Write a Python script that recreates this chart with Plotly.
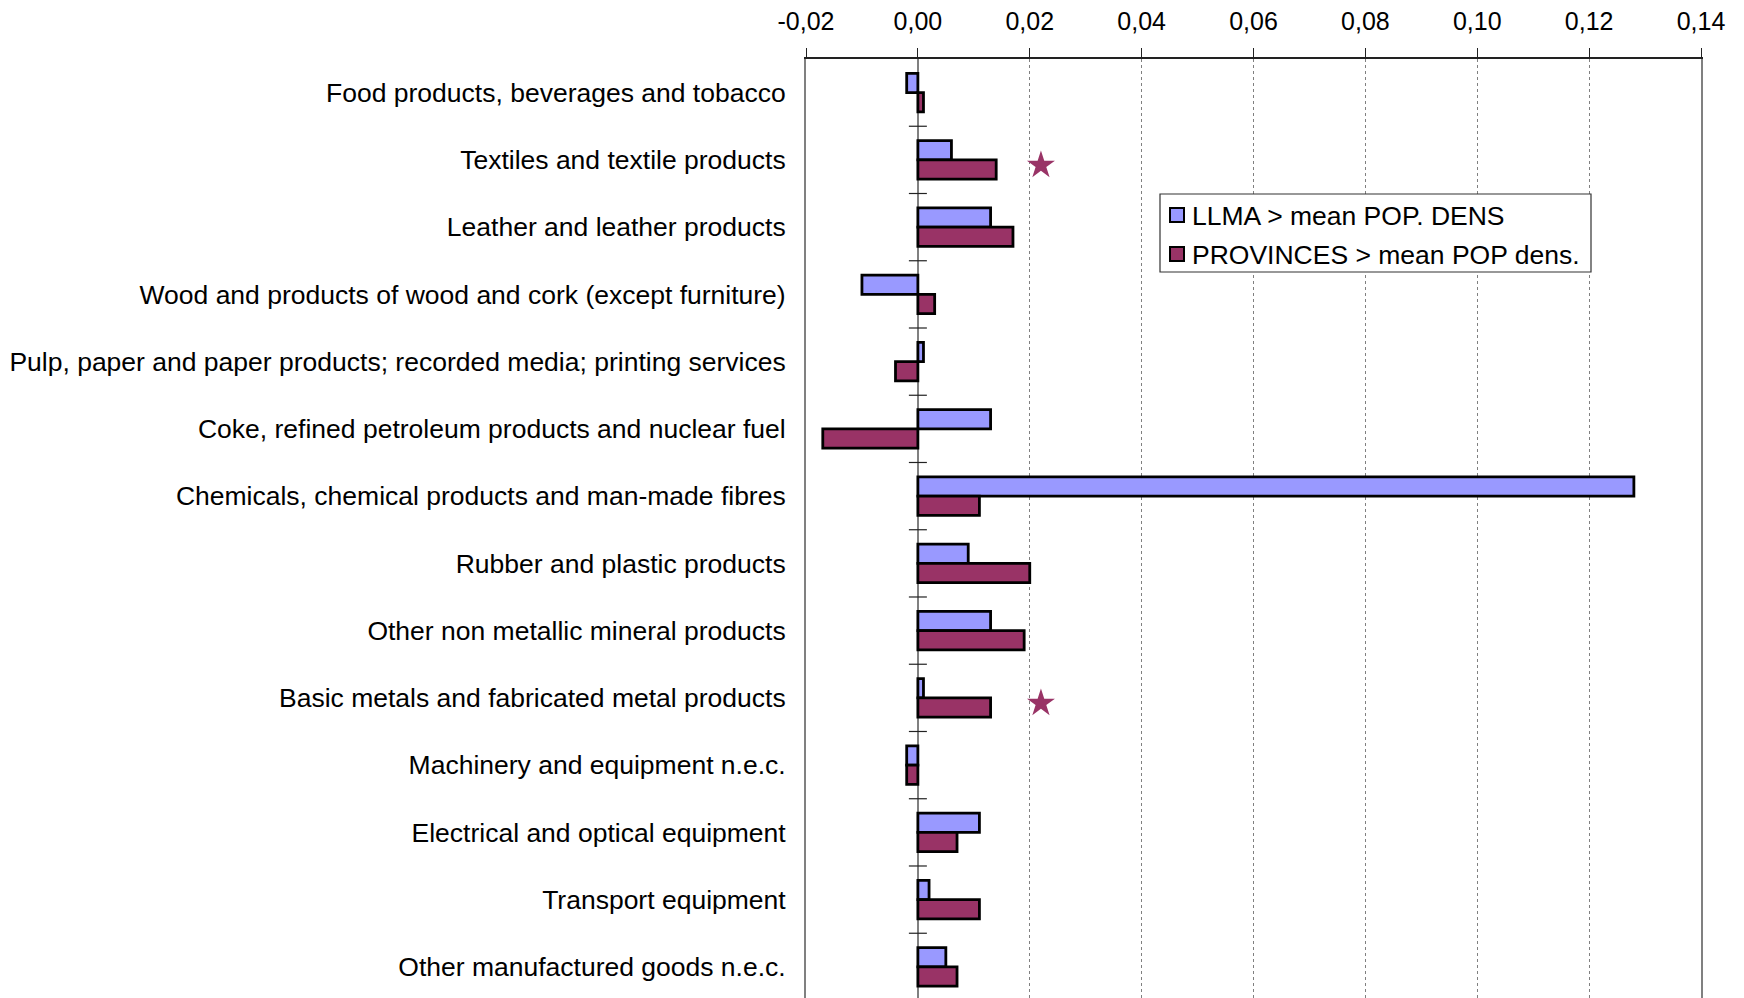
import plotly.graph_objects as go

# Manufacturing sectors (top to bottom)
categories = [
    "Food products, beverages and tobacco",
    "Textiles and textile products",
    "Leather and leather products",
    "Wood and products of wood and cork (except furniture)",
    "Pulp, paper and paper products; recorded media; printing services",
    "Coke, refined petroleum products and nuclear fuel",
    "Chemicals, chemical products and man-made fibres",
    "Rubber and plastic products",
    "Other non metallic mineral products",
    "Basic metals and fabricated metal products",
    "Machinery and equipment n.e.c.",
    "Electrical and optical equipment",
    "Transport equipment",
    "Other manufactured goods n.e.c.",
]

llma_values = [-0.002, 0.006, 0.013, -0.010, 0.001, 0.013, 0.128,
               0.009, 0.013, 0.001, -0.002, 0.011, 0.002, 0.005]
prov_values = [0.001, 0.014, 0.017, 0.003, -0.004, -0.017, 0.011,
               0.020, 0.019, 0.013, -0.002, 0.007, 0.011, 0.007]

# Significance markers
star_categories = ["Textiles and textile products",
                   "Basic metals and fabricated metal products"]
star_value = 0.022

x_tick_values = [-0.02, 0.00, 0.02, 0.04, 0.06, 0.08, 0.10, 0.12, 0.14]
x_tick_labels = ["-0,02", "0,00", "0,02", "0,04", "0,06", "0,08", "0,10", "0,12", "0,14"]

series_names = ["LLMA > mean POP. DENS", "PROVINCES > mean POP dens."]
series_colors = ["#9999FF", "#993366"]

FONT = "Arial, Liberation Sans, sans-serif"
W, H = 1744, 998
ML, MR, MT, MB = 806, 43, 59, 0
rows = list(range(len(categories)))


def px_x(px):
    return (px - ML) / (W - ML - MR)


def px_y(py):
    return 1 - (py - MT) / (H - MT - MB)


fig = go.Figure()
for name, vals, col in zip(series_names, [llma_values, prov_values], series_colors):
    fig.add_trace(go.Bar(
        x=vals, y=rows, orientation="h", name=name,
        marker=dict(color=col, line=dict(color="black", width=2.8)),
        showlegend=False,
    ))

star_rows = [categories.index(c) + 0.08 for c in star_categories]
fig.add_trace(go.Scatter(
    x=[star_value] * len(star_rows), y=star_rows, mode="markers",
    marker=dict(symbol="star", size=21, color="#993366"),
    showlegend=False, hoverinfo="skip",
))

# Category tick marks crossing the zero line
for k in range(len(categories)):
    fig.add_shape(type="line", xref="x", yref="y", xsizemode="pixel", xanchor=0,
                  x0=-9, x1=9, y0=k + 0.5, y1=k + 0.5,
                  line=dict(color="#222222", width=1.2), layer="above")

# Legend box
box_left, box_top, box_right, box_bottom = 1160, 194, 1591, 272
fig.add_shape(type="rect", xref="paper", yref="paper",
              x0=px_x(box_left), x1=px_x(box_right),
              y0=px_y(box_bottom), y1=px_y(box_top),
              fillcolor="white", line=dict(color="#333333", width=1.2), layer="above")
row_centers = [215, 254]
for name, col, cy in zip(series_names, series_colors, row_centers):
    fig.add_shape(type="rect", xref="paper", yref="paper",
                  x0=px_x(1170), x1=px_x(1184),
                  y0=px_y(cy + 7), y1=px_y(cy - 7),
                  fillcolor=col, line=dict(color="black", width=2), layer="above")
    fig.add_annotation(xref="paper", yref="paper", x=px_x(1190), y=px_y(cy + 1),
                       xanchor="left", yanchor="middle", showarrow=False,
                       text=name, font=dict(family=FONT, size=26.5, color="black"))

fig.update_layout(
    width=W, height=H,
    margin=dict(l=ML, r=MR, t=MT, b=MB),
    paper_bgcolor="white", plot_bgcolor="white",
    barmode="group", bargap=0.426,
    font=dict(family=FONT, size=26, color="black"),
    showlegend=False,
    xaxis=dict(
        side="top", range=[-0.02, 0.14],
        tickvals=x_tick_values, ticktext=x_tick_labels,
        tickfont=dict(family=FONT, size=25, color="black"),
        ticks="outside", ticklen=9, tickwidth=1, tickcolor="#222222",
        showline=True, linecolor="#222222", linewidth=2,
        showgrid=True, gridcolor="#808080", gridwidth=1, griddash="dot",
        zeroline=True, zerolinecolor="#808080", zerolinewidth=2,
        ticklabelstandoff=8,
    ),
    xaxis2=dict(
        overlaying="x", side="top", anchor="y", range=[-0.02, 0.14],
        tickvals=x_tick_values, showticklabels=False,
        ticks="inside", ticklen=9, tickwidth=1, tickcolor="#222222",
        showgrid=False, zeroline=False, showline=False,
    ),
    yaxis=dict(
        range=[len(categories) - 0.537, -0.5],
        tickvals=rows, ticktext=categories,
        tickfont=dict(family=FONT, size=26.5, color="black"),
        ticks="", showgrid=False, zeroline=False,
        showline=True, mirror=True, linecolor="#808080", linewidth=2,
        ticklabelstandoff=13,
    ),
)

fig.write_html("out.html")
